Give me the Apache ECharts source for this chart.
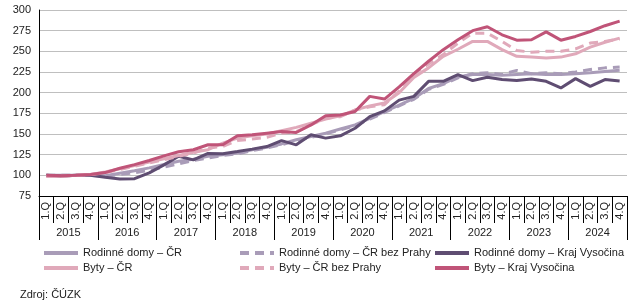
<!DOCTYPE html>
<html>
<head>
<meta charset="utf-8">
<script src="https://cdn.jsdelivr.net/npm/echarts@6/dist/echarts.min.js"></script>
<style>
html, body { margin: 0; padding: 0; background: #fff; }
#container { width: 643px; height: 303px; }
</style>
</head>
<body>
<div id="container"></div>
<script>
var years = ['2015', '2016', '2017', '2018', '2019', '2020', '2021', '2022', '2023', '2024'];
var quarterNames = ['1.Q', '2.Q', '3.Q', '4.Q'];
var quarters = [];
for (var y = 0; y < years.length; y++) {
    for (var q = 0; q < quarterNames.length; q++) {
        quarters.push(quarterNames[q]);
    }
}

var domyCR = [100, 100, 100, 100, 99.5, 102.5, 105.5, 109, 113, 117, 119.5, 123,
    125, 127, 131, 134, 138, 143, 147, 151, 156, 161, 169, 177, 185, 193,
    205, 211, 219, 222, 222, 221, 222, 223, 222, 222, 223, 224, 225.5, 227];
var domyCRbezPrahy = [100, 100, 100, 100, 99, 101, 103, 106, 110, 114, 118, 121,
    124, 126, 130, 133, 137, 142, 146, 150, 155, 160, 168, 176, 184, 192,
    204, 210, 218, 223, 224, 222, 227, 223, 224, 223, 225, 228, 230, 231];
var domyVysocina = [100, 99, 100, 100, 97.7, 95.6, 96, 103, 112.6, 123, 118.7, 126.5,
    126, 128.8, 131.7, 134.8, 142, 136.9, 149, 145, 147.8, 157, 171, 178, 191, 195.5,
    213.7, 213.7, 221.8, 214.6, 218.6, 215.8, 214.6, 216.6, 213.7, 205.7, 217, 207.6, 215.8, 214];
var bytyCR = [98.5, 99, 100, 101, 104, 108, 112, 116, 120, 124, 128, 131,
    139, 145, 148, 150, 154, 158, 163, 168, 172, 179, 184, 187.5, 200, 218.5,
    230, 244, 252.5, 262, 262, 252, 244, 243, 242, 243, 247, 255, 261, 266];
var bytyCRbezPrahy = [99, 99, 100, 101, 103, 107, 111, 115, 119, 123, 127, 133,
    135, 142, 144, 146, 151, 153, 161, 169, 171, 179, 183, 185.5, 202, 222.7,
    234.7, 246, 260, 272, 272, 262, 251, 249, 250, 250, 253, 260, 262, 265];
var bytyVysocina = [100, 99.5, 100, 101, 103.3, 108.5, 113, 118, 123.5, 128.5, 131, 137,
    137, 148, 149, 151, 153, 151.8, 161, 172, 173, 177.3, 195.5, 192.3, 207, 223,
    238, 252, 264, 275, 279.7, 270, 263.5, 264, 273.6, 263.5, 268, 274, 281, 286.5];

var colDomy = '#a99cb8';
var colDomyV = '#5f4d72';
var colByty = '#e0a9ba';
var colBytyV = '#c05478';
var font = 'Liberation Sans, Arial, sans-serif';

function line(name, data, color, dashed) {
    return {
        name: name,
        type: 'line',
        xAxisIndex: 0,
        data: data,
        symbol: 'none',
        smooth: false,
        lineStyle: { color: color, width: 3, type: dashed ? [9, 6] : 'solid' },
        itemStyle: { color: color }
    };
}

function legendCol(left, names) {
    return {
        orient: 'vertical',
        left: left,
        top: 241,
        itemWidth: 34,
        itemHeight: 10,
        itemGap: 1,
        data: names,
        itemStyle: { opacity: 0 },
        lineStyle: { width: 4 },
        textStyle: { fontFamily: font, fontSize: 11, color: '#222', lineHeight: 14 }
    };
}

var dom = document.getElementById('container');
var myChart = echarts.init(dom);
var option = {
    animation: false,
    grid: { left: 39, right: 16, top: 10, bottom: 107 },
    legend: [
        legendCol(37, ['Rodinné domy – ČR', 'Byty – ČR']),
        legendCol(233, ['Rodinné domy – ČR bez Prahy', 'Byty – ČR bez Prahy']),
        legendCol(428, ['Rodinné domy – Kraj Vysočina', 'Byty – Kraj Vysočina'])
    ],
    graphic: [{
        type: 'text',
        left: 20,
        top: 289,
        style: { text: 'Zdroj: ČÚZK', font: '11px ' + font, fill: '#222' }
    }],
    xAxis: [{
        type: 'category',
        data: quarters,
        boundaryGap: true,
        axisLine: { lineStyle: { color: '#000', width: 1 } },
        axisTick: { show: true, interval: 0, length: 27, lineStyle: { color: '#000' } },
        axisLabel: { interval: 0, rotate: 90, margin: 6, fontFamily: font, fontSize: 11, color: '#222' }
    }, {
        type: 'category',
        data: years,
        position: 'bottom',
        offset: 27,
        boundaryGap: true,
        axisLine: { show: false },
        axisTick: { show: true, interval: 0, length: 17, lineStyle: { color: '#000' } },
        axisLabel: { interval: 0, margin: 4, fontFamily: font, fontSize: 11, color: '#222' }
    }],
    yAxis: {
        type: 'value',
        min: 75,
        max: 300,
        interval: 25,
        axisLine: { show: true, lineStyle: { color: '#000' } },
        axisTick: { show: false },
        axisLabel: { margin: 8, fontFamily: font, fontSize: 11, color: '#222' },
        splitLine: { lineStyle: { color: '#bfbfbf', width: 1 } }
    },
    series: [
        line('Rodinné domy – ČR', domyCR, colDomy, false),
        line('Rodinné domy – ČR bez Prahy', domyCRbezPrahy, colDomy, true),
        line('Rodinné domy – Kraj Vysočina', domyVysocina, colDomyV, false),
        line('Byty – ČR', bytyCR, colByty, false),
        line('Byty – ČR bez Prahy', bytyCRbezPrahy, colByty, true),
        line('Byty – Kraj Vysočina', bytyVysocina, colBytyV, false)
    ]
};
myChart.setOption(option);
</script>
</body>
</html>
